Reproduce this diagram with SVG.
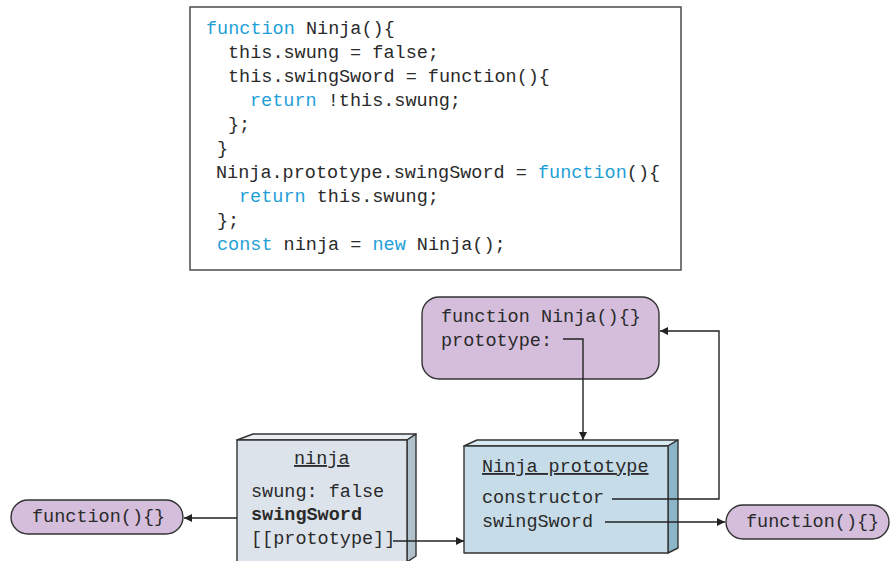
<svg xmlns="http://www.w3.org/2000/svg" width="891" height="561" viewBox="0 0 891 561">
<defs>
<style>
.mono{font-family:"Liberation Mono","Courier New",monospace;font-size:18.5px;fill:#2a2a2a;}
.kw{fill:#1e9fd8;}
.b{font-weight:bold;}
.u{text-decoration:underline;}
.edge{fill:none;stroke:#222;stroke-width:1.4;}
.purple{fill:#d4bedc;stroke:#333;stroke-width:1.4;}
.line{stroke:#333;stroke-width:1.4;stroke-linejoin:round;}
</style>
<marker id="arr" viewBox="0 0 10 10" refX="10" refY="5" markerWidth="10" markerHeight="8" markerUnits="userSpaceOnUse" orient="auto">
<path d="M0,0 L10,5 L0,10 z" fill="#222"/>
</marker>
</defs>
<rect width="891" height="561" fill="#fff"/>

<g id="code">
<rect x="190" y="7" width="491" height="263" fill="#fff" stroke="#555" stroke-width="1.6"/>
<text class="mono" xml:space="preserve">
<tspan x="206" y="34"><tspan class="kw">function</tspan> Ninja(){</tspan>
<tspan x="228" y="58">this.swung = false;</tspan>
<tspan x="228" y="82">this.swingSword = function(){</tspan>
<tspan x="250" y="106"><tspan class="kw">return</tspan> !this.swung;</tspan>
<tspan x="228" y="130">};</tspan>
<tspan x="217" y="154">}</tspan>
<tspan x="216" y="178">Ninja.prototype.swingSword = <tspan class="kw">function</tspan>(){</tspan>
<tspan x="239" y="202"><tspan class="kw">return</tspan> this.swung;</tspan>
<tspan x="217" y="226">};</tspan>
<tspan x="217" y="250"><tspan class="kw">const</tspan> ninja = <tspan class="kw">new</tspan> Ninja();</tspan>
</text>
</g>

<g id="ninjaFn">
<rect class="purple" x="422" y="297" width="237" height="82" rx="17"/>
<text class="mono" x="441" y="322">function Ninja(){}</text>
<text class="mono" x="441" y="346">prototype:</text>
</g>

<g id="ninjaObj">
<polygon class="line" points="237,440 253,434 416,434 407,440" fill="#e9eef2"/>
<polygon class="line" points="407,440 416,434 416,556 407,562" fill="#b1c1cb"/>
<rect class="line" x="237" y="440" width="170" height="125" fill="#dce3ea"/>
<text class="mono u" x="294" y="464">ninja</text>
<text class="mono" x="251" y="497">swung: false</text>
<text class="mono b" x="251" y="520">swingSword</text>
<text class="mono" x="251" y="544">[[prototype]]</text>
</g>

<g id="ninjaProto">
<polygon class="line" points="464,446 477,440 678,440 668,446" fill="#d9e9f1"/>
<polygon class="line" points="668,446 678,440 678,548 668,553" fill="#8db5c8"/>
<rect class="line" x="464" y="446" width="204" height="107" fill="#c6dce8"/>
<text class="mono u" x="482" y="472">Ninja prototype</text>
<text class="mono" x="482" y="503">constructor</text>
<text class="mono" x="482" y="527">swingSword</text>
</g>

<g id="fnLeft">
<rect class="purple" x="11" y="500" width="172" height="34" rx="17"/>
<text class="mono" x="32" y="522">function(){}</text>
</g>

<g id="fnRight">
<rect class="purple" x="726" y="505" width="163" height="34" rx="17"/>
<text class="mono" x="746" y="527">function(){}</text>
</g>

<g id="connectors">
<polyline class="edge" points="563,339 583,339 583,440" marker-end="url(#arr)"/>
<polyline class="edge" points="612,499 719,499 719,331 660,331" marker-end="url(#arr)"/>
<polyline class="edge" points="605,522 725,522" marker-end="url(#arr)"/>
<polyline class="edge" points="393,541 464,541" marker-end="url(#arr)"/>
<polyline class="edge" points="237,518 184,518" marker-end="url(#arr)"/>
</g>
</svg>
